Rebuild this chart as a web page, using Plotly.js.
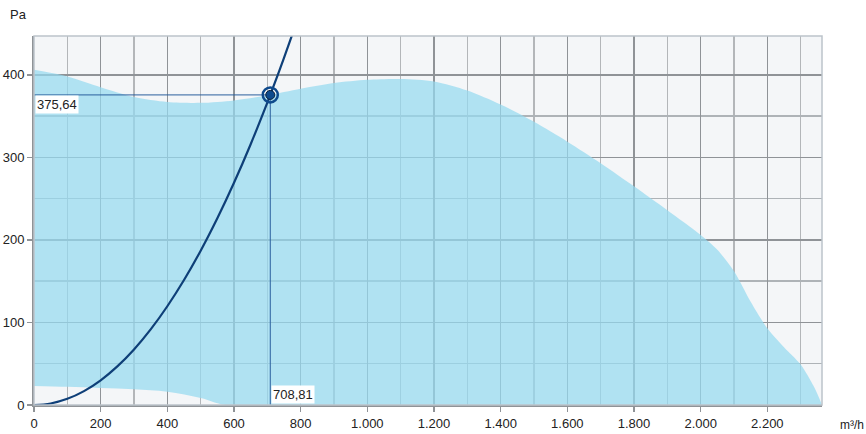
<!DOCTYPE html>
<html>
<head>
<meta charset="utf-8">
<script src="https://cdn.plot.ly/plotly-3.0.1.min.js"></script>
<style>html,body{margin:0;padding:0;background:#fff;}#chart{width:866px;height:434px;}</style>
</head>
<body>
<div id="chart"></div>
<script>
// Fan curve region (upper boundary), m³/h vs Pa
const upperX = [0, 100, 200, 300, 400, 500, 600, 700, 800, 900, 1000, 1100, 1200, 1300, 1400, 1500, 1600, 1700, 1800, 1900, 2000, 2050, 2100, 2150, 2200, 2250, 2300, 2340, 2364];
const upperY = [406, 398, 385, 373, 367, 366, 369, 375, 383, 390, 394, 395, 392, 381, 364, 343, 319, 293, 265, 236, 206, 188, 162, 125, 93, 70, 49, 22, 0];
// Lower boundary of region
const lowerX = [0, 100, 200, 300, 400, 500, 575, 800, 2364];
const lowerY = [23, 22, 20.5, 19, 16, 8.5, 0, 0, 0];
// System curve passing through operating point
const opX = 708.81;
const opY = 375.64;
const sysX = [0, 50, 100, 150, 200, 250, 300, 350, 400, 450, 500, 550, 600, 650, 700, 708.81, 750, 780];
const xUnit = "m³/h";
const yUnit = "Pa";

const k = opY / (opX * opX);
const sysY = sysX.map(x => k * x * x);

const traces = [
  {x: lowerX, y: lowerY, type: 'scatter', mode: 'lines',
   line: {width: 0, color: 'rgba(0,0,0,0)', shape: 'spline', smoothing: 1},
   hoverinfo: 'skip', showlegend: false},
  {x: upperX, y: upperY, type: 'scatter', mode: 'lines', fill: 'tonexty',
   fillcolor: 'rgba(150,218,240,0.72)',
   line: {width: 0, color: 'rgba(0,0,0,0)', shape: 'spline', smoothing: 0.8},
   hoverinfo: 'skip', showlegend: false},
  {x: [0, opX], y: [opY, opY], type: 'scatter', mode: 'lines',
   line: {color: '#2a5f9e', width: 1}, showlegend: false},
  {x: [opX, opX], y: [opY, 0], type: 'scatter', mode: 'lines',
   line: {color: '#2a5f9e', width: 1}, showlegend: false},
  {x: sysX, y: sysY, type: 'scatter', mode: 'lines',
   line: {color: '#0e3f78', width: 2.2, shape: 'spline'}, showlegend: false},
  {x: [opX], y: [opY], type: 'scatter', mode: 'markers',
   marker: {symbol: 'circle-open', size: 15, color: '#0e4a8c', line: {color: '#0e4a8c', width: 2.5}}, showlegend: false},
  {x: [opX], y: [opY], type: 'scatter', mode: 'markers',
   marker: {symbol: 'circle', size: 9, color: '#0e4a8c', line: {color: '#0a1f3a', width: 1}}, showlegend: false}
];

const font = {family: 'Liberation Sans, Arial, Helvetica, sans-serif', size: 13, color: '#222'};

const layout = {
  width: 866, height: 434,
  margin: {l: 34, r: 44, t: 36, b: 29},
  paper_bgcolor: '#ffffff',
  plot_bgcolor: '#f4f6f8',
  separators: ',.',
  font: font,
  showlegend: false,
  xaxis: {
    range: [0, 2364], dtick: 200, tick0: 0,
    separatethousands: true,
    showgrid: true, gridcolor: '#8f9397', gridwidth: 1.5,
    minor: {dtick: 100, showgrid: true, gridcolor: '#b3b6b9', gridwidth: 1.5},
    ticks: 'outside', ticklen: 5, tickcolor: '#8f9397', tickwidth: 1.5,
    showline: true, linecolor: '#8f9397', linewidth: 2,
    zeroline: false, tickfont: font, fixedrange: true
  },
  yaxis: {
    range: [0, 447], dtick: 100, tick0: 0,
    showgrid: true, gridcolor: '#8f9397', gridwidth: 1.5,
    minor: {dtick: 50, showgrid: true, gridcolor: '#aeb3b7', gridwidth: 1.5},
    ticks: 'outside', ticklen: 5, tickcolor: '#8f9397', tickwidth: 1.5,
    showline: true, linecolor: '#8f9397', linewidth: 2,
    zeroline: false, tickfont: font, fixedrange: true
  },
  shapes: [
    {type: 'rect', xref: 'paper', yref: 'paper', x0: 0, x1: 1, y0: 0, y1: 1,
     line: {color: '#bcc3ca', width: 1.5}, layer: 'above'}
  ],
  annotations: [
    {text: yUnit, xref: 'paper', yref: 'paper', x: -0.02, y: 1.057,
     xanchor: 'center', yanchor: 'middle', showarrow: false, font: font},
    {text: xUnit, xref: 'paper', yref: 'paper', x: 1.02, y: -0.055,
     xanchor: 'left', yanchor: 'middle', showarrow: false, font: {family: font.family, size: 12, color: '#222'}},
    {text: opY.toFixed(2).replace('.', ','), x: 0, y: opY, xref: 'x', yref: 'y',
     xanchor: 'left', yanchor: 'top', showarrow: false, bgcolor: '#ffffff',
     borderpad: 1, xshift: 1, font: font},
    {text: opX.toFixed(2).replace('.', ','), x: opX, y: 0, xref: 'x', yref: 'y',
     xanchor: 'left', yanchor: 'bottom', showarrow: false, bgcolor: '#ffffff',
     borderpad: 1, xshift: 1, yshift: 1, font: font}
  ]
};

Plotly.newPlot('chart', traces, layout, {displayModeBar: false, staticPlot: true});
</script>
</body>
</html>
